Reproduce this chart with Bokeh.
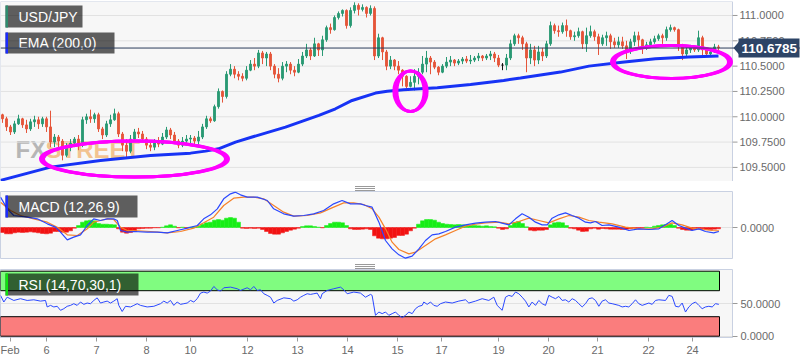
from bokeh.plotting import figure
from bokeh.models import (Range1d, FixedTicker, PrintfTickFormatter, Span, Label,
                          BoxAnnotation, PolyAnnotation, Div, ColumnDataSource)
from bokeh.layouts import column
from bokeh.embed import file_html
from bokeh.resources import INLINE
from bokeh.core.properties import value

# ---------------- data ----------------
symbol = "USD/JPY"
ema_title = "EMA (200,0)"
macd_title = "MACD (12,26,9)"
rsi_title = "RSI (14,70,30,1)"
last_price = 110.6785
rsi_upper, rsi_lower, rsi_top = 70, 30, 100

first_open = 110.02
close_prices = [
    109.98, 109.90, 109.85, 109.93, 109.98, 109.92, 109.88, 109.95, 109.97, 109.93,
    109.98, 109.90, 109.75, 109.80, 109.76, 109.62, 109.70, 109.74, 109.78, 109.72,
    109.97, 110.00, 109.98, 110.02, 109.88, 109.82, 109.93, 109.97, 110.03, 109.83,
    109.72, 109.66, 109.78, 109.85, 109.83, 109.78, 109.72, 109.70, 109.75, 109.73,
    109.80, 109.87, 109.82, 109.76, 109.72, 109.76, 109.78, 109.79, 109.76, 109.80,
    109.90, 109.98, 109.96, 110.10, 110.25, 110.20, 110.42, 110.47, 110.42, 110.40,
    110.38, 110.46, 110.52, 110.50, 110.63, 110.58, 110.62, 110.50, 110.42, 110.38,
    110.50, 110.52, 110.46, 110.44, 110.52, 110.60, 110.66, 110.60, 110.72, 110.66,
    110.76, 110.88, 110.86, 110.98, 111.02, 111.05, 110.90, 111.05, 111.10, 111.06,
    111.08, 111.02, 111.07, 110.60, 110.78, 110.64, 110.50, 110.56, 110.50, 110.46,
    110.40, 110.30, 110.34, 110.40, 110.44, 110.52, 110.58, 110.54, 110.49, 110.44,
    110.50, 110.54, 110.56, 110.53, 110.55, 110.57, 110.55, 110.56, 110.58, 110.60,
    110.58, 110.60, 110.62, 110.58, 110.51, 110.51, 110.58, 110.72, 110.80, 110.78,
    110.72, 110.58, 110.66, 110.56, 110.64, 110.60, 110.72, 110.90, 110.85, 110.84,
    110.90, 110.85, 110.79, 110.80, 110.84, 110.72, 110.80, 110.84, 110.79, 110.72,
    110.78, 110.80, 110.74, 110.71, 110.74, 110.70, 110.66, 110.74, 110.80, 110.76,
    110.68, 110.71, 110.74, 110.77, 110.80, 110.78, 110.86, 110.88, 110.86, 110.70,
    110.62, 110.66, 110.68, 110.66, 110.78, 110.66, 110.62, 110.64, 110.69, 110.68,
]
high_prices = [
    110.03, 110.00, 109.92, 109.96, 110.02, 109.99, 109.97, 109.98, 110.01, 110.00,
    110.00, 110.00, 110.06, 109.83, 109.82, 109.78, 109.74, 109.78, 109.80, 109.82,
    110.00, 110.03, 110.07, 110.04, 110.04, 109.90, 109.96, 110.02, 110.08, 110.05,
    109.85, 109.78, 109.82, 109.88, 109.89, 109.86, 109.80, 109.76, 109.78, 109.80,
    109.84, 109.90, 109.89, 109.85, 109.78, 109.80, 109.82, 109.82, 109.81, 109.86,
    109.93, 110.01, 110.00, 110.12, 110.28, 110.26, 110.45, 110.52, 110.50, 110.45,
    110.43, 110.50, 110.56, 110.58, 110.66, 110.65, 110.64, 110.64, 110.52, 110.48,
    110.54, 110.55, 110.54, 110.50, 110.57, 110.64, 110.72, 110.68, 110.78, 110.73,
    110.80, 110.90, 110.92, 111.00, 111.04, 111.06, 111.06, 111.08, 111.13, 111.12,
    111.11, 111.09, 111.10, 111.09, 110.82, 110.79, 110.66, 110.60, 110.57, 110.55,
    110.47, 110.41, 110.40, 110.47, 110.48, 110.60, 110.65, 110.60, 110.56, 110.50,
    110.52, 110.59, 110.60, 110.57, 110.57, 110.59, 110.60, 110.61, 110.60, 110.63,
    110.61, 110.62, 110.65, 110.64, 110.61, 110.53, 110.62, 110.76, 110.82, 110.82,
    110.80, 110.74, 110.72, 110.70, 110.70, 110.68, 110.75, 110.94, 110.92, 110.90,
    110.93, 110.96, 110.86, 110.84, 110.88, 110.85, 110.88, 110.90, 110.86, 110.82,
    110.81, 110.84, 110.82, 110.78, 110.79, 110.79, 110.75, 110.77, 110.84, 110.84,
    110.77, 110.74, 110.77, 110.80, 110.82, 110.82, 110.89, 110.91, 110.89, 110.87,
    110.72, 110.69, 110.71, 110.70, 110.85, 110.80, 110.67, 110.68, 110.72, 110.71,
]
low_prices = [
    109.94, 109.86, 109.82, 109.83, 109.92, 109.89, 109.84, 109.86, 109.90, 109.88,
    109.90, 109.85, 109.70, 109.70, 109.68, 109.57, 109.60, 109.66, 109.70, 109.67,
    109.70, 109.93, 109.94, 109.94, 109.85, 109.78, 109.80, 109.90, 109.96, 109.80,
    109.66, 109.60, 109.64, 109.77, 109.79, 109.75, 109.68, 109.66, 109.67, 109.70,
    109.72, 109.78, 109.78, 109.73, 109.69, 109.70, 109.72, 109.74, 109.73, 109.70,
    109.78, 109.88, 109.94, 109.95, 110.08, 110.14, 110.18, 110.40, 110.38, 110.36,
    110.35, 110.36, 110.45, 110.46, 110.48, 110.52, 110.50, 110.46, 110.38, 110.34,
    110.36, 110.44, 110.42, 110.40, 110.43, 110.50, 110.58, 110.56, 110.59, 110.60,
    110.60, 110.74, 110.82, 110.85, 110.96, 110.99, 110.87, 110.88, 111.02, 111.00,
    111.04, 110.98, 111.00, 110.56, 110.58, 110.56, 110.46, 110.47, 110.46, 110.42,
    110.30, 110.28, 110.29, 110.26, 110.32, 110.42, 110.44, 110.42, 110.47, 110.41,
    110.43, 110.48, 110.50, 110.50, 110.51, 110.52, 110.53, 110.52, 110.54, 110.55,
    110.55, 110.56, 110.56, 110.54, 110.49, 110.46, 110.46, 110.56, 110.70, 110.72,
    110.66, 110.44, 110.52, 110.50, 110.52, 110.55, 110.58, 110.70, 110.82, 110.79,
    110.82, 110.79, 110.76, 110.75, 110.78, 110.67, 110.64, 110.78, 110.75, 110.61,
    110.70, 110.70, 110.67, 110.68, 110.68, 110.67, 110.57, 110.62, 110.70, 110.69,
    110.62, 110.66, 110.70, 110.72, 110.75, 110.72, 110.75, 110.84, 110.84, 110.65,
    110.56, 110.60, 110.63, 110.64, 110.64, 110.60, 110.59, 110.60, 110.63, 110.65,
]

ema_x = [-0.5, 12, 24.5, 37, 47, 50.75, 54, 58.25, 62.4, 70.75, 79.1, 83.25, 87.4,
         93.25, 96.2, 100.3, 108.7, 117, 125.3, 129.5, 139.5, 146.6, 154.9, 163.25,
         171.6, 179]
ema_v = [109.372, 109.503, 109.569, 109.618, 109.641, 109.661, 109.684, 109.75,
         109.80, 109.898, 110.013, 110.079, 110.161, 110.234, 110.253, 110.266,
         110.286, 110.319, 110.359, 110.382, 110.441, 110.50, 110.539, 110.572,
         110.589, 110.599]

macd_x = [-0.5, 1.2, 2.8, 6.2, 8.7, 11.2, 13.25, 14.5, 16.2, 17.8, 19.5, 21.2, 22.8,
          24.5, 26.2, 27.8, 28.7, 29.5, 31.2, 32.8, 36.2, 38.7, 41.2, 43.7, 46.2,
          48.7, 50.3, 52.0, 53.7, 55.3, 57.0, 58.25, 59.5, 61.2, 63.7, 66.2, 67.8,
          70.3, 72.8, 75.3, 77.8, 80.3, 82.8, 84.9, 87.0, 89.5, 90.75, 92.4, 94.1,
          95.75, 97.4, 99.1, 100.75, 102.4, 104.1, 105.75, 107.4, 109.1, 110.75,
          113.25, 115.75, 118.25, 120.75, 123.25, 124.9, 126.6, 128.25, 129.9,
          131.6, 133.25, 134.9, 136.2, 137.4, 139.1, 140.75, 142.4, 144.1, 145.75,
          147.0, 148.25, 149.9, 151.6, 154.1, 156.6, 159.1, 161.6, 164.1, 165.75,
          167.4, 169.1, 170.75, 172.4, 174.1, 175.75, 177.8, 179.1]
macd_v = [0.091, 0.056, 0.036, 0.031, 0.026, 0.011, 0.001, -0.014, -0.037, -0.029,
          -0.022, 0.006, 0.026, 0.021, 0.026, 0.026, 0.021, -0.009, -0.014, -0.012,
          -0.014, -0.014, -0.016, -0.009, -0.002, 0.006, 0.026, 0.038, 0.056, 0.086,
          0.101, 0.106, 0.098, 0.091, 0.091, 0.081, 0.056, 0.041, 0.034, 0.036,
          0.041, 0.051, 0.071, 0.081, 0.071, 0.071, 0.066, 0.061, 0.016, -0.039,
          -0.064, -0.082, -0.092, -0.086, -0.064, -0.039, -0.022, -0.019, -0.012,
          0.001, 0.008, 0.013, 0.016, 0.018, 0.013, 0.008, 0.026, 0.041, 0.031,
          0.016, 0.008, 0.008, 0.028, 0.038, 0.044, 0.036, 0.028, 0.016, 0.014,
          0.018, 0.006, 0.008, 0.001, -0.009, -0.004, -0.006, -0.004, 0.008, 0.021,
          0.006, -0.002, -0.009, -0.004, -0.012, -0.016, -0.012]
signal_x = [-0.5, 2.0, 4.5, 7.8, 11.2, 13.7, 16.2, 18.7, 21.2, 22.8, 24.5, 26.2, 27.8,
            29.5, 31.2, 32.8, 37.0, 41.2, 44.5, 47.8, 50.3, 52.8, 55.3, 57.8, 60.3,
            62.8, 65.3, 67.8, 70.3, 72.8, 76.2, 79.5, 82.8, 85.3, 87.8, 90.3, 92.4,
            94.1, 95.75, 97.4, 99.1, 101.6, 103.25, 105.75, 108.25, 110.75, 113.25,
            115.75, 118.25, 120.75, 124.1, 126.6, 129.1, 131.6, 134.1, 136.6, 139.1,
            141.6, 144.1, 146.6, 149.1, 152.4, 155.75, 159.1, 162.4, 164.9, 167.4,
            169.9, 172.4, 175.0, 177.5, 179.1]
signal_v = [0.076, 0.051, 0.036, 0.026, 0.016, 0.001, -0.022, -0.024, -0.004, 0.016,
            0.021, 0.026, 0.024, 0.001, -0.009, -0.009, -0.012, -0.016, -0.012,
            -0.002, 0.014, 0.031, 0.066, 0.088, 0.091, 0.091, 0.086, 0.066, 0.046,
            0.034, 0.036, 0.044, 0.061, 0.074, 0.074, 0.069, 0.056, 0.031, -0.004,
            -0.044, -0.066, -0.079, -0.074, -0.054, -0.034, -0.022, -0.009, 0.004,
            0.010, 0.014, 0.016, 0.011, 0.018, 0.028, 0.021, 0.014, 0.026, 0.036,
            0.031, 0.021, 0.016, 0.011, 0.001, -0.004, -0.004, 0.001, 0.014, 0.008,
            -0.002, -0.006, -0.009, -0.010]
macd_hist = [
    -0.015, -0.019, -0.019, -0.016, -0.014, -0.015, -0.014, -0.013, -0.014, -0.016,
    -0.018, -0.019, -0.017, -0.012, -0.012, -0.014, -0.014, -0.010, -0.002, 0.006,
    0.016, 0.020, 0.022, 0.020, 0.012, 0.010, 0.010, 0.009, 0.008, -0.004,
    -0.014, -0.017, -0.015, -0.012, -0.004, -0.003, -0.002, -0.002, -0.001, -0.001,
    0.001, 0.005, 0.008, 0.004, -0.001, 0.001, -0.001, 0.001, 0.002, 0.004,
    0.010, 0.014, 0.016, 0.022, 0.024, 0.022, 0.028, 0.030, 0.028, 0.016,
    -0.002, -0.003, -0.002, -0.003, -0.002, -0.006, -0.012, -0.018, -0.020, -0.020,
    -0.016, -0.012, -0.008, -0.005, -0.002, 0.003, 0.005, 0.005, 0.003, 0.001,
    -0.001, 0.006, 0.012, 0.016, 0.016, 0.014, 0.006, -0.004, -0.006, -0.006,
    -0.005, -0.004, -0.006, -0.025, -0.032, -0.034, -0.034, -0.032, -0.030, -0.024,
    -0.024, -0.020, -0.010, -0.002, 0.010, 0.020, 0.024, 0.024, 0.022, 0.016,
    0.012, 0.010, 0.009, 0.008, 0.009, 0.008, 0.007, 0.006, 0.006, 0.005,
    0.004, 0.005, 0.003, 0.002, -0.002, -0.006, -0.004, 0.006, 0.014, 0.018,
    0.012, 0.002, -0.008, -0.010, -0.008, -0.008, -0.006, 0.008, 0.014, 0.016,
    0.014, 0.006, -0.002, -0.004, -0.008, -0.012, -0.011, -0.004, -0.002, -0.005,
    -0.003, -0.004, -0.005, -0.005, -0.005, -0.006, -0.005, -0.004, -0.001, -0.001,
    -0.001, 0.001, 0.000, 0.004, 0.006, 0.008, 0.009, 0.010, 0.006, -0.002,
    -0.006, -0.008, -0.008, -0.006, -0.002, -0.004, -0.006, -0.006, -0.005, -0.004,
]

rsi_x = [-0.5, 0.33, 1.17, 2.83, 4.5, 6.17, 7.83, 9.5, 10.75, 11.17, 12, 12.83, 13.67,
         14.5, 15.33, 16.17, 17, 17.83, 18.67, 19.5, 20.33, 21.17, 22, 22.83, 23.67,
         24.5, 25.33, 26.17, 27, 27.83, 28.67, 29.08, 29.92, 30.75, 32, 32.83, 33.67,
         34.5, 36.17, 37.83, 39.5, 40.33, 41.17, 42, 42.83, 43.67, 44.5, 45.33, 46.17,
         47, 47.83, 48.67, 49.5, 50.33, 51.17, 52, 52.83, 53.67, 54.5, 55.33, 57,
         58.67, 59.5, 61.17, 62, 62.83, 63.67, 64.5, 65.33, 66.17, 67, 67.83, 68.67,
         70.33, 72, 72.83, 73.67, 74.5, 75.33, 76.17, 77, 77.83, 78.67, 79.5, 79.92,
         81.17, 82.83, 84.5, 85.33, 86.17, 87.83, 89.5, 90.75, 92, 92.4, 93.25, 94.08,
         94.92, 95.75, 96.58, 97.42, 98.25, 99.08, 99.92, 100.75, 101.58, 102.42,
         103.25, 104.08, 104.92, 105.33, 106.17, 107, 107.83, 108.67, 109.5, 110.75,
         112.42, 114.08, 115.75, 116.58, 118.25, 119.92, 121.58, 122.83, 123.67,
         124.92, 125.75, 126.58, 127.42, 128.25, 129.08, 129.92, 130.75, 131.58,
         132.42, 133.25, 134.08, 134.92, 135.75, 136.58, 137.42, 138.25, 139.08,
         139.92, 140.75, 141.58, 142.42, 143.25, 144.08, 144.92, 145.75, 146.58,
         147.42, 148.25, 149.08, 149.92, 150.75, 151.58, 152.42, 154.08, 154.92,
         155.75, 156.58, 157.42, 158.25, 159.08, 159.92, 161.58, 162.42, 163.25,
         164.08, 165.75, 166.58, 167.42, 168.25, 169.08, 169.92, 170.75, 171.58,
         172.42, 173.25, 174.08, 174.92, 175.75, 176.58, 177.42, 178.25, 179.08]
rsi_v = [62.8, 52.6, 60, 55, 57.7, 55, 56, 54, 55, 45, 47.4, 45, 46, 39.8, 42.3, 46,
         47.4, 50, 47.4, 52.6, 49, 51, 50, 55, 59, 51, 52.6, 54, 51, 54, 57.7, 47.4,
         38, 46, 45, 47.4, 50, 47.4, 45, 46, 50, 54, 51, 55, 47.4, 52.6, 49, 50, 51,
         55, 52.6, 57.7, 66.3, 67.9, 66.3, 69.4, 76.5, 71.4, 69.4, 74.5, 75.5, 73,
         70.4, 74.5, 71.4, 76.5, 70.4, 71.4, 65.3, 62.8, 60, 51, 55, 59, 57.7, 54,
         56, 60, 62.8, 65.3, 64.3, 65.3, 66.3, 57.7, 65.3, 70.4, 73, 75.5, 71.4,
         65.3, 67.9, 66.3, 60, 64.3, 62.8, 32.1, 37.2, 34.7, 37.2, 32.1, 34.7, 37.2,
         32.1, 28.6, 32.1, 37.2, 34.7, 42.3, 46, 47.4, 52.6, 49, 52.6, 47.4, 46, 50,
         52.6, 51, 54, 56, 51, 54, 57.7, 55, 60, 47.4, 39.8, 60, 62.8, 61.2, 67.9,
         65.3, 60, 54, 45, 52.6, 47.4, 55, 50, 47.4, 62.8, 60, 57.7, 61.2, 55, 56,
         52.6, 57.7, 55, 50, 45, 50, 57.7, 59, 55, 46, 54, 56, 51, 50, 47.4, 45, 46,
         45, 50, 56, 50, 47.4, 51, 49, 55, 56, 55, 62.8, 61.2, 46, 45, 51, 37.2, 45,
         50, 52.6, 47.4, 42.3, 45, 46, 45, 50, 49]

day_tick_pos = [1.9, 11, 23.5, 36, 47, 61.25, 73.75, 86.25, 98.75, 109.75, 124,
                136.5, 148.75, 161.5, 172.5]
day_tick_labels = ["Feb", "6", "7", "8", "10", "12", "13", "14", "15", "17", "19",
                   "20", "21", "22", "24"]
price_ticks = [109.5, 109.75, 110.0, 110.25, 110.5, 110.75, 111.0]

# hand-drawn highlight ellipses (centre bar, centre price, width in bars, height in price)
circle_x = [33, 102, 167.25]
circle_y = [109.583, 110.252, 110.541]
circle_w = [47, 8.3, 30]
circle_h = [0.355, 0.398, 0.326]

# ---------------- layout constants ----------------
FW = 732          # plotting area width (px)
RB = 68           # right axis band (px)
PX_PER_BAR = 4
FONT = "Liberation Sans"
PANEL_BG = "#f7f7f7"
OUTLINE = "#c9d1e2"
GRID = "#e2e2e2"
TICK = "#9a9a9a"
LABEL = "#6a6a6a"
TAG = "#2d4466"

x_start = -0.5
x_end = x_start + FW / PX_PER_BAR          # panel right edge in bar units
px_x = 1.0 / PX_PER_BAR


def style_right_axis(ax, ticks):
    ax.ticker = FixedTicker(ticks=ticks)
    ax.formatter = PrintfTickFormatter(format="%.4f")
    ax.axis_line_color = None
    ax.major_tick_line_color = TICK
    ax.major_tick_out = 5
    ax.major_tick_in = 0
    ax.minor_tick_line_color = None
    ax.major_label_text_color = LABEL
    ax.major_label_text_font = FONT
    ax.major_label_text_font_size = "11px"
    ax.major_label_standoff = 3


def make_indicator_panel(frame_h, yr, ticks, x_range, xaxis=False):
    p = figure(frame_width=FW, frame_height=frame_h, x_range=x_range, y_range=yr,
               x_axis_location="below" if xaxis else None, y_axis_location="right",
               toolbar_location=None, tools="", output_backend="svg",
               min_border=0, min_border_right=RB)
    p.background_fill_color = PANEL_BG
    p.border_fill_color = "white"
    p.outline_line_color = OUTLINE
    p.xgrid.visible = False
    p.ygrid.ticker = FixedTicker(ticks=ticks)
    p.ygrid.grid_line_color = GRID
    style_right_axis(p.yaxis[0], ticks)
    return p


def add_legend(p, frame_h, text, stripe, width_px, top_px=4, height_px=22):
    yr = p.y_range
    py = (yr.end - yr.start) / frame_h
    left = x_start + 5 * px_x
    top = yr.end - top_px * py
    bottom = top - height_px * py
    p.add_layout(BoxAnnotation(left=left, right=left + width_px * px_x, top=top,
                               bottom=bottom, fill_color="black", fill_alpha=0.62,
                               line_color=None))
    p.add_layout(BoxAnnotation(left=left, right=left + 2.5 * px_x, top=top,
                               bottom=bottom, fill_color=stripe, fill_alpha=1.0,
                               line_color=None))
    p.add_layout(Label(x=left, y=(top + bottom) / 2, x_offset=13, text=text,
                       text_baseline="middle", text_align="left", text_color="white",
                       text_font=FONT, text_font_size="14px"))


# ---------------- main price panel (axis band drawn inside the canvas) ----------------
H1 = 180
yr1 = Range1d(109.361, 111.138)
p1 = figure(frame_width=FW + RB, frame_height=H1,
            x_range=Range1d(x_start, x_start + (FW + RB) / PX_PER_BAR), y_range=yr1,
            x_axis_location=None, y_axis_location=None, toolbar_location=None, tools="",
            output_backend="svg", min_border=0, min_border_top=1)
p1.background_fill_color = "white"
p1.border_fill_color = "white"
p1.outline_line_color = None
p1.grid.visible = False
py1 = (yr1.end - yr1.start) / H1

p1.add_layout(BoxAnnotation(left=x_start, right=x_end, bottom=yr1.start, top=yr1.end,
                            fill_color=PANEL_BG, fill_alpha=1.0, line_color=OUTLINE,
                            line_alpha=1.0, line_width=1, level="image"))

nt = len(price_ticks)
p1.segment(x0=[x_start] * nt, x1=[x_end] * nt, y0=price_ticks, y1=price_ticks,
           line_color=GRID, line_width=1)
p1.segment(x0=[x_end] * nt, x1=[x_end + 5 * px_x] * nt, y0=price_ticks, y1=price_ticks,
           line_color=TICK, line_width=1)
p1.text(x=[x_end] * nt, y=price_ticks, text=["%.4f" % t for t in price_ticks],
        x_offset=7, text_baseline="middle", text_align="left",
        text_font=value(FONT), text_font_size="11px", text_color=LABEL)

# watermark
p1.add_layout(Label(x=x_start, y=109.54, x_offset=15, text="FX",
                    text_font=FONT, text_font_style="bold",
                    text_font_size="24px", text_color="#8a8a8a", text_alpha=0.6,
                    level="underlay"))
p1.add_layout(Label(x=x_start, y=109.54, x_offset=45, text="STREET",
                    text_font=FONT, text_font_style="bold",
                    text_font_size="24px", text_color="#f0a04b", text_alpha=0.6,
                    level="underlay"))

n = len(close_prices)
bars = list(range(n))
opens = [first_open] + close_prices[:-1]
UP, DOWN, FLAT = "#2a9a74", "#e5553a", "#111111"
candle_colors = [UP if c > o else (DOWN if c < o else FLAT) for o, c in zip(opens, close_prices)]
csrc = ColumnDataSource(dict(
    x=bars, high=high_prices, low=low_prices,
    top=[max(o, c) for o, c in zip(opens, close_prices)],
    bottom=[min(o, c) for o, c in zip(opens, close_prices)],
    color=candle_colors))
p1.segment(x0="x", y0="low", x1="x", y1="high", line_color="color", line_width=1, source=csrc)
p1.vbar(x="x", top="top", bottom="bottom", width=0.45, fill_color="color",
        line_color="color", line_width=1, source=csrc)

p1.line(ema_x, ema_v, line_color="#1733f5", line_width=3)

for shrink in (0.0, 0.75, 1.5):
    p1.ellipse(x=circle_x, y=circle_y, width=[w - shrink for w in circle_w],
               height=circle_h, fill_color=None, line_color="#ff00ff", line_width=3)

add_legend(p1, H1, symbol, "#2e8b6e", 77)
add_legend(p1, H1, ema_title, "#1a2bff", 109, top_px=31, height_px=21)

p1.add_layout(Span(location=last_price, dimension="width", line_color="#2b3d5b", line_width=1))
p1.add_layout(PolyAnnotation(xs=[x_end + 1 * px_x, x_end + 7 * px_x, x_end + 7 * px_x],
                             ys=[last_price, last_price + 7 * py1, last_price - 7 * py1],
                             fill_color=TAG, fill_alpha=1.0, line_color=None))
p1.add_layout(BoxAnnotation(left=x_end + 6 * px_x, right=x_end + 67 * px_x,
                            top=last_price + 9.5 * py1, bottom=last_price - 9.5 * py1,
                            fill_color=TAG, fill_alpha=1.0, line_color=None))
p1.add_layout(Label(x=x_end, y=last_price, x_offset=9, text=f"{last_price:.4f}",
                    text_baseline="middle", text_align="left", text_color="white",
                    text_font=FONT, text_font_style="bold", text_font_size="13.5px"))

# ---------------- MACD panel ----------------
x_range_ind = Range1d(x_start, x_end)
H2 = 68
p2 = make_indicator_panel(H2, Range1d(-0.096, 0.108), [0], x_range_ind)
hist_colors = ["#16ee16" if v >= 0 else "#f21212" for v in macd_hist]
p2.vbar(x=bars, top=macd_hist, bottom=0, width=1.0, fill_color=hist_colors,
        line_color=hist_colors, line_width=0.6, line_alpha=0.8)
p2.line(signal_x, signal_v, line_color="#f5822a", line_width=1.2)
p2.line(macd_x, macd_v, line_color="#2a48ff", line_width=1.2)
add_legend(p2, H2, macd_title, "#1a2bff", 132)

# ---------------- RSI panel ----------------
H3 = 68
p3 = make_indicator_panel(H3, Range1d(-2.0, 102.6), [0, 50], x_range_ind, xaxis=True)
band_right = bars[-1] + 0.25
p3.quad(left=[x_start], right=[band_right], bottom=[rsi_upper], top=[rsi_top],
        fill_color="#80fc80", line_color="black", line_width=1)
p3.quad(left=[x_start], right=[band_right], bottom=[0], top=[rsi_lower],
        fill_color="#fa7d7d", line_color="black", line_width=1)
p3.line(rsi_x, rsi_v, line_color="#2a48ff", line_width=1)
add_legend(p3, H3, rsi_title, "#10e010", 133)

xa = p3.xaxis[0]
xa.ticker = FixedTicker(ticks=day_tick_pos)
xa.major_label_overrides = {t: s for t, s in zip(day_tick_pos, day_tick_labels)}
xa.axis_line_color = OUTLINE
xa.major_tick_line_color = TICK
xa.major_tick_out = 4
xa.major_tick_in = 0
xa.minor_tick_line_color = None
xa.major_label_text_color = LABEL
xa.major_label_text_font = FONT
xa.major_label_text_font_size = "11px"
xa.major_label_standoff = 2


def splitter():
    svg = ('<svg width="%d" height="10" style="display:block">'
           '<path d="M355 3.5H375M355 5.5H375M355 7.5H375" stroke="#9a9a9a" '
           'stroke-width="1" fill="none"/></svg>' % (FW + RB))
    return Div(text=svg, width=FW + RB, height=10, margin=0)


layout = column(p1, splitter(), p2, splitter(), p3, spacing=0)

open("out.html", "w").write(file_html(layout, INLINE))
